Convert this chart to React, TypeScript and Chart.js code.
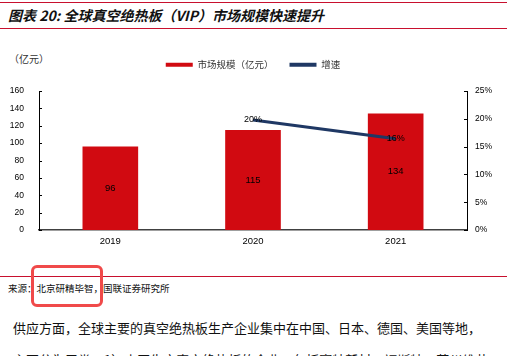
import React, { useEffect, useRef } from 'react';
import { Chart, registerables } from 'chart.js';

Chart.register(...registerables);

const years = ['2019', '2020', '2021'];
const marketSize = [96, 115, 134];
const growthRate = [null, 19.8, 16.4];
const seriesNames = ['市场规模（亿元）', '增速'];

const titleText = '图表 20: 全球真空绝热板（VIP）市场规模快速提升';
const unitText = '（亿元）';
const sourceText = '来源：北京研精毕智，国联证券研究所';
const bodyLines = [
  '供应方面，全球主要的真空绝热板生产企业集中在中国、日本、德国、美国等地，',
  '主要分为三类：1）中国生产真空绝热板的企业，包括赛特新材、福斯特、苏州维艾',
];

const RED = '#D10A11';
const NAVY = '#1F3864';
const CJK = '"Noto Sans CJK SC", sans-serif';
const NUM = '"Liberation Sans", Arial, sans-serif';

const legendSpacer = {
  id: 'legendSpacer',
  beforeInit(chart: any) {
    const orig = chart.legend.fit;
    chart.legend.fit = function () {
      orig.bind(chart.legend)();
      this.height += 11.5;
    };
  },
};

const inwardTicks = {
  id: 'inwardTicks',
  afterDraw(chart: any) {
    const ctx = chart.ctx;
    ctx.save();
    ctx.strokeStyle = '#000';
    ctx.lineWidth = 1;
    const y = chart.scales.y;
    y.ticks.forEach((t: any) => {
      const py = Math.round(y.getPixelForValue(t.value)) + 0.5;
      ctx.beginPath();
      ctx.moveTo(chart.chartArea.left, py);
      ctx.lineTo(chart.chartArea.left + 3, py);
      ctx.stroke();
    });
    const y1 = chart.scales.y1;
    y1.ticks.forEach((t: any) => {
      const py = Math.round(y1.getPixelForValue(t.value)) + 0.5;
      ctx.beginPath();
      ctx.moveTo(chart.chartArea.right, py);
      ctx.lineTo(chart.chartArea.right - 3, py);
      ctx.stroke();
    });
    ctx.restore();
  },
};

const valueLabels = {
  id: 'valueLabels',
  afterDatasetsDraw(chart: any) {
    const ctx = chart.ctx;
    ctx.save();
    ctx.fillStyle = '#000';
    ctx.textAlign = 'center';
    ctx.textBaseline = 'middle';
    const barMeta = chart.getDatasetMeta(0);
    ctx.font = `9.5px ${NUM}`;
    barMeta.data.forEach((el: any, i: number) => {
      const v = marketSize[i];
      ctx.fillText(String(v), el.x, (el.y + el.base) / 2);
    });
    const lineMeta = chart.getDatasetMeta(1);
    ctx.font = `9px ${NUM}`;
    lineMeta.data.forEach((el: any, i: number) => {
      const v = growthRate[i];
      if (v == null) return;
      ctx.fillText(Math.round(v) + '%', el.x, el.y);
    });
    ctx.restore();
  },
};

function ChartBox() {
  const ref = useRef<HTMLCanvasElement | null>(null);
  useEffect(() => {
    if (!ref.current) return;
    const chart = new Chart(ref.current, {
      type: 'bar',
      data: {
        labels: years,
        datasets: [
          {
            type: 'bar',
            label: seriesNames[0],
            data: marketSize,
            backgroundColor: RED,
            borderWidth: 0,
            barPercentage: 0.39,
            categoryPercentage: 1,
            yAxisID: 'y',
            order: 1,
          },
          {
            type: 'line',
            label: seriesNames[1],
            data: growthRate as any,
            borderColor: NAVY,
            backgroundColor: NAVY,
            borderWidth: 3,
            pointRadius: 0,
            tension: 0,
            yAxisID: 'y1',
            order: 0,
          },
        ],
      } as any,
      options: {
        responsive: false,
        animation: false,
        layout: { padding: { top: 4, left: 0, right: 8, bottom: 0 } },
        plugins: {
          tooltip: { enabled: false },
          legend: {
            display: true,
            position: 'top',
            labels: {
              boxWidth: 27,
              boxHeight: 4,
              padding: 16,
              color: '#333',
              font: { family: CJK, size: 9.5 },
              sort: (a: any, b: any) => a.datasetIndex - b.datasetIndex,
              generateLabels: (c: any) =>
                Chart.defaults.plugins.legend.labels
                  .generateLabels(c)
                  .map((l: any) => ({ ...l, lineWidth: 0 })),
            },
          },
        },
        scales: {
          x: {
            grid: { display: false, drawTicks: false },
            border: { display: true, color: '#404040', width: 1.5 },
            ticks: { color: '#000', font: { family: NUM, size: 9.5 }, padding: 6 },
            afterFit: (s: any) => { s.height = 30; },
          },
          y: {
            position: 'left',
            min: 0,
            max: 160,
            grid: { display: false, drawTicks: false },
            border: { display: true, color: '#000', width: 1 },
            ticks: { stepSize: 20, color: '#000', font: { family: NUM, size: 8.5 }, padding: 15 },
            afterFit: (s: any) => { s.width = 39; },
          },
          y1: {
            position: 'right',
            min: 0,
            max: 25,
            grid: { display: false, drawTicks: false },
            border: { display: true, color: '#000', width: 1 },
            ticks: {
              stepSize: 5,
              color: '#000',
              font: { family: NUM, size: 8.5 },
              padding: 8,
              callback: (v: any) => v + '%',
            },
            afterFit: (s: any) => { s.width = 39; },
          },
        },
      } as any,
      plugins: [legendSpacer, inwardTicks, valueLabels],
    });
    return () => chart.destroy();
  }, []);
  return (
    <canvas
      ref={ref}
      width={514}
      height={220}
      style={{ position: 'absolute', left: 0, top: 40, width: 514, height: 220, display: 'block' }}
    />
  );
}

export default function App() {
  const line = (top: number) => ({
    position: 'absolute' as const,
    left: 0,
    top,
    width: 507,
    height: 1,
    background: '#C8102E',
  });
  return (
    <div
      style={{
        position: 'absolute',
        left: 0,
        top: 0,
        width: 514,
        height: 356,
        overflow: 'hidden',
        background: '#fff',
      }}
    >
      <div style={line(2)} />
      <div
        style={{
          position: 'absolute',
          left: 8,
          top: 5,
          fontFamily: CJK,
          fontWeight: 'bold',
          fontStyle: 'italic',
          fontSize: 14,
          lineHeight: '20px',
          color: '#111',
          whiteSpace: 'nowrap',
        }}
      >
        {titleText}
      </div>
      <div style={line(28)} />
      <div
        style={{
          position: 'absolute',
          left: 9,
          top: 52,
          fontFamily: CJK,
          fontSize: 10,
          lineHeight: '14px',
          color: '#333',
          whiteSpace: 'nowrap',
        }}
      >
        {unitText}
      </div>
      <ChartBox />
      <div style={line(276)} />
      <div
        style={{
          position: 'absolute',
          left: 8,
          top: 281,
          fontFamily: CJK,
          fontSize: 9.5,
          lineHeight: '14px',
          color: '#111',
          whiteSpace: 'nowrap',
        }}
      >
        {sourceText}
      </div>
      <div
        style={{
          position: 'absolute',
          left: 31,
          top: 265,
          width: 72,
          height: 42,
          boxSizing: 'border-box',
          border: '3px solid #F04A4A',
          borderRadius: 6,
        }}
      />
      {bodyLines.map((t, i) => (
        <div
          key={i}
          style={{
            position: 'absolute',
            left: 13,
            top: 319 + i * 32,
            fontFamily: CJK,
            fontSize: 13,
            lineHeight: '18px',
            color: '#111',
            whiteSpace: 'nowrap',
          }}
        >
          {t}
        </div>
      ))}
    </div>
  );
}
